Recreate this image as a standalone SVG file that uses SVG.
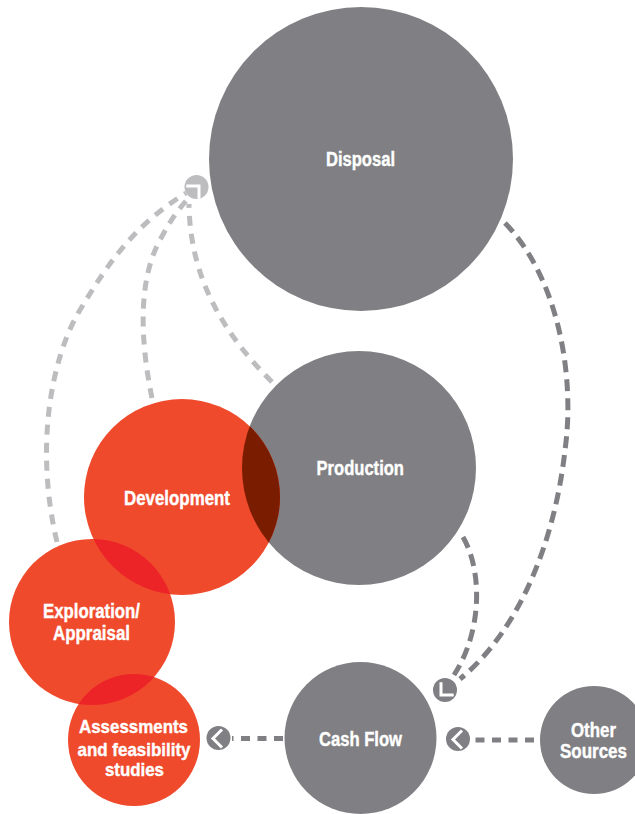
<svg xmlns="http://www.w3.org/2000/svg" xmlns:xlink="http://www.w3.org/1999/xlink" width="635" height="814" viewBox="0 0 635 814">
  <style>
    .grey { fill: #807f83; }
    .red { fill: #ef4a2c; }
    .lens-dark { fill: #7a1c00; }
    .lens-red { fill: #ec2428; }
    .label { fill: #ffffff; stroke: #ffffff; stroke-width: 0.4; font-family: "Liberation Sans", Arial, sans-serif; font-weight: bold; font-size: 20px; }
    .label-sm { font-size: 19px; }
    .link-light { fill: none; stroke: #bdbdc0; stroke-width: 5; stroke-dasharray: 10 8; }
    .link-dark { fill: none; stroke: #807f83; stroke-width: 5; stroke-dasharray: 12 7; }
    .link-flat { fill: none; stroke: #807f83; stroke-width: 5; stroke-dasharray: 9 7.5; }
    .head-light { fill: #bdbdc0; }
    .head-dark { fill: #807f83; }
    .chevron { fill: none; stroke: #ffffff; stroke-width: 3; }
  </style>
  <defs>
    <!-- right-angle notch, tip at origin, pointing along +x -->
    <polyline id="chevron" class="chevron" points="-9,-9 0,0 -9,9"/>
    <clipPath id="clip-production"><circle cx="359" cy="468" r="117"/></clipPath>
    <clipPath id="clip-development"><circle cx="182" cy="497" r="98"/></clipPath>
    <clipPath id="clip-exploration"><circle cx="92" cy="622" r="83"/></clipPath>
  </defs>

  <rect width="635" height="814" fill="#ffffff"/>

  <!-- connectors -->
  <g id="connectors">
    <path class="link-light" d="M57,542 C35,450 50,360 80,310 C110,260 135,225 186,193"/>
    <path class="link-light" d="M152,398 C140,340 138,280 160,240 C168,225 176,212 186,201"/>
    <path class="link-light" d="M272,382 C225,335 190,280 189,204"/>
    <path class="link-dark" d="M505,223 C560,280 575,380 565,450 C555,540 520,630 460,679"/>
    <path class="link-dark" d="M463,537 C482,570 483,630 454,675"/>
    <path class="link-flat" d="M283,738.5 L232,738.5"/>
    <path class="link-flat" d="M534,740 L472,740"/>

    <g id="head-disposal">
      <circle class="head-light" cx="196.5" cy="187" r="12"/>
      <use xlink:href="#chevron" href="#chevron" transform="translate(199,186) rotate(-45)"/>
    </g>
    <g id="head-cashflow-in">
      <circle class="head-dark" cx="445" cy="690" r="12"/>
      <use xlink:href="#chevron" href="#chevron" transform="translate(441,695) rotate(135)"/>
    </g>
    <g id="head-assessments">
      <circle class="head-dark" cx="218.5" cy="738" r="12"/>
      <use xlink:href="#chevron" href="#chevron" transform="translate(213,738.5) rotate(180)"/>
    </g>
    <g id="head-other">
      <circle class="head-dark" cx="458" cy="739" r="12"/>
      <use xlink:href="#chevron" href="#chevron" transform="translate(453,739.5) rotate(180)"/>
    </g>
  </g>

  <!-- nodes -->
  <g id="disposal">
    <circle class="grey" cx="361" cy="159" r="152"/>
    <text class="label" x="326" y="166" textLength="69" lengthAdjust="spacingAndGlyphs">Disposal</text>
  </g>

  <g id="production">
    <circle class="grey" cx="359" cy="468" r="117"/>
  </g>

  <g id="development">
    <circle class="red" cx="182" cy="497" r="98"/>
    <circle class="lens-dark" cx="182" cy="497" r="98" clip-path="url(#clip-production)"/>
  </g>

  <g id="exploration">
    <circle class="red" cx="92" cy="622" r="83"/>
    <circle class="lens-red" cx="92" cy="622" r="83" clip-path="url(#clip-development)"/>
  </g>

  <g id="assessments">
    <circle class="red" cx="134" cy="740" r="66"/>
    <circle class="lens-red" cx="134" cy="740" r="66" clip-path="url(#clip-exploration)"/>
  </g>

  <g id="cash-flow">
    <circle class="grey" cx="360.5" cy="738" r="76"/>
    <text class="label" x="319" y="746" textLength="83" lengthAdjust="spacingAndGlyphs">Cash Flow</text>
  </g>

  <g id="other-sources">
    <circle class="grey" cx="594" cy="740" r="54"/>
    <text class="label" x="571" y="737" textLength="45" lengthAdjust="spacingAndGlyphs">Other</text>
    <text class="label" x="560" y="758" textLength="67" lengthAdjust="spacingAndGlyphs">Sources</text>
  </g>

  <!-- labels drawn over overlapping circles -->
  <g id="labels">
    <text class="label" x="316.5" y="475" textLength="87.5" lengthAdjust="spacingAndGlyphs">Production</text>
    <text class="label" x="124" y="505" textLength="106" lengthAdjust="spacingAndGlyphs">Development</text>
    <text class="label" x="43" y="618" textLength="97" lengthAdjust="spacingAndGlyphs">Exploration/</text>
    <text class="label" x="53" y="640" textLength="77" lengthAdjust="spacingAndGlyphs">Appraisal</text>
    <text class="label label-sm" x="79" y="733" textLength="109" lengthAdjust="spacingAndGlyphs">Assessments</text>
    <text class="label label-sm" x="77.5" y="755.5" textLength="113" lengthAdjust="spacingAndGlyphs">and feasibility</text>
    <text class="label label-sm" x="105" y="775.5" textLength="59" lengthAdjust="spacingAndGlyphs">studies</text>
  </g>
</svg>
